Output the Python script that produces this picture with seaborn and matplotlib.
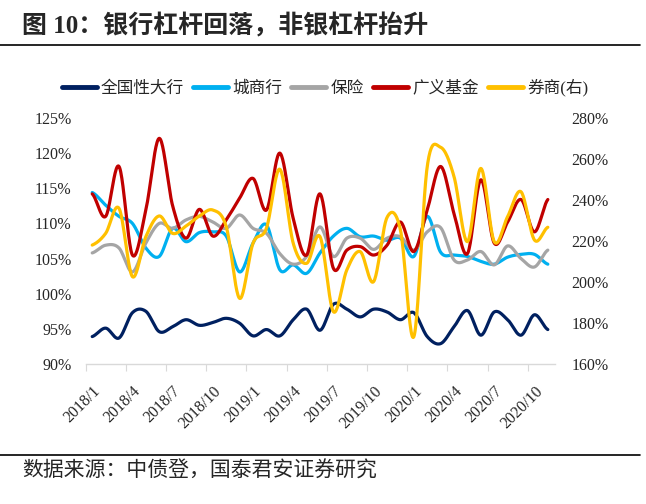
import numpy as np
import pandas as pd
import matplotlib
matplotlib.use("Agg")
import matplotlib.pyplot as plt
import seaborn as sns
from matplotlib.lines import Line2D

# ---------------------------------------------------------------
# data (monthly 2018/1 - 2020/11)
# ---------------------------------------------------------------
months = [f"{y}/{m}" for y in (2018, 2019, 2020) for m in range(1, 13)][:35]

big_banks = [93.9, 95.1, 93.7, 97.3, 97.5, 94.6, 95.3, 96.3, 95.5, 95.9,
             96.5, 95.8, 94.0, 94.9, 94.0, 96.3, 97.8, 94.8, 98.5, 97.8,
             96.7, 97.8, 97.4, 96.3, 97.3, 93.9, 92.9, 95.3, 97.6, 94.1,
             97.4, 96.3, 94.1, 97.0, 94.9]
city_banks = [114.4, 112.6, 111.0, 110.0, 106.5, 105.3, 109.3, 107.4, 108.7, 108.8,
              108.2, 103.1, 107.2, 109.8, 103.4, 104.1, 102.9, 105.8, 108.2, 109.3,
              108.1, 108.2, 107.6, 107.9, 105.3, 111.0, 105.9, 105.5, 105.3, 104.6,
              104.2, 105.2, 105.6, 105.6, 104.2]
insurance = [105.8, 106.9, 106.5, 103.1, 107.2, 110.0, 109.3, 110.5, 111.0, 110.2,
             109.3, 111.2, 109.3, 108.6, 105.7, 104.2, 105.3, 109.5, 105.3, 107.9,
             107.9, 106.3, 107.9, 108.1, 106.2, 108.8, 109.4, 104.8, 104.8, 106.0,
             104.1, 106.8, 105.0, 103.8, 106.2]
funds = [114.2, 111.0, 118.1, 105.5, 111.9, 122.1, 112.5, 107.9, 112.0, 108.2,
         110.5, 113.6, 116.4, 111.9, 120.0, 110.7, 105.5, 114.2, 103.6, 106.2,
         106.7, 105.5, 106.9, 110.2, 106.0, 111.9, 118.1, 111.4, 105.7, 116.2,
         107.2, 110.2, 113.4, 108.8, 113.4]
brokers = [218.0, 223.7, 235.9, 202.6, 222.1, 232.2, 223.7, 227.3, 232.2, 235.1,
           227.0, 192.0, 218.9, 226.2, 255.0, 218.9, 209.1, 222.1, 185.5, 205.9,
           214.8, 200.2, 231.5, 225.4, 173.3, 256.3, 265.7, 251.4, 219.7, 255.4,
           219.7, 231.9, 244.0, 220.5, 226.7]

left_series = [("全国性大行", big_banks, "#002060"),
               ("城商行", city_banks, "#00B0F0"),
               ("保险", insurance, "#A5A5A5"),
               ("广义基金", funds, "#C00000")]
right_series = [("券商(右)", brokers, "#FFC000")]


def smooth(values, n=24):
    # Excel-style smoothed line (Catmull-Rom through the data points)
    y = np.asarray(values, float)
    p = np.concatenate([[y[0]], y, [y[-1]]])
    t = np.linspace(0, 1, n, endpoint=False)
    xs, ys = [], []
    for i in range(len(y) - 1):
        p0, p1, p2, p3 = p[i], p[i + 1], p[i + 2], p[i + 3]
        seg = 0.5 * (2 * p1 + (p2 - p0) * t + (2 * p0 - 5 * p1 + 4 * p2 - p3) * t ** 2
                     + (-p0 + 3 * p1 - 3 * p2 + p3) * t ** 3)
        xs.append(i + t)
        ys.append(seg)
    xs.append([len(y) - 1])
    ys.append([y[-1]])
    return pd.DataFrame({"x": np.concatenate(xs), "y": np.concatenate(ys)})


# ---------------------------------------------------------------
# figure
# ---------------------------------------------------------------
sns.set_theme(style="white")
plt.rcParams["font.family"] = ["Liberation Serif", "Noto Sans CJK SC"]

fig = plt.figure(figsize=(6.46, 5.04), dpi=100)
ax = fig.add_axes([0.1324, 0.2778, 0.7260, 0.4881])
ax2 = ax.twinx()

for name, vals, color in left_series:
    d = smooth(vals)
    sns.lineplot(data=d, x="x", y="y", ax=ax, color=color, linewidth=2.3,
                 sort=False, estimator=None)
for name, vals, color in right_series:
    d = smooth(vals)
    sns.lineplot(data=d, x="x", y="y", ax=ax2, color=color, linewidth=2.3,
                 sort=False, estimator=None)

ax.set_xlim(-0.5, len(months) - 0.5)
ax.set_ylim(90, 125)
ax2.set_ylim(160, 280)
ax.set_yticks(np.arange(90, 126, 5))
ax.set_yticklabels([f"{v}%" for v in range(90, 126, 5)])
ax2.set_yticks(np.arange(160, 281, 20))
ax2.set_yticklabels([f"{v}%" for v in range(160, 281, 20)])

# tick marks between categories, labels under every third month
ax.set_xticks(np.arange(-0.5, len(months) - 1, 3))
ax.set_xticklabels([])
ax.set_xticks(np.arange(0, len(months), 3), minor=True)
ax.set_xticklabels(months[::3], minor=True, rotation=45, ha="right",
                   rotation_mode="anchor", fontsize=11.5)
ax.tick_params(axis="x", which="major", length=5, width=0.8, color="#d9d9d9",
               direction="out", bottom=True)
ax.tick_params(axis="x", which="minor", length=0, pad=14)
ax.tick_params(axis="y", length=0, pad=10, labelsize=11.5)
ax2.tick_params(axis="y", length=0, pad=12, labelsize=11.5)

for a in (ax, ax2):
    a.set_xlabel("")
    a.set_ylabel("")
    a.grid(False)
    for s in ("top", "left", "right"):
        a.spines[s].set_visible(False)
    a.spines["bottom"].set_color("#d9d9d9")
    a.spines["bottom"].set_linewidth(1.0)
ax2.spines["bottom"].set_visible(False)

# legend across the top
handles = [Line2D([], [], color=c, linewidth=3.5) for _, _, c in left_series + right_series]
labels = [n for n, _, _ in left_series + right_series]
fig.legend(handles, labels, loc="center", bbox_to_anchor=(0.503, 0.826), ncol=5,
           frameon=False, fontsize=12, handlelength=2.1, handletextpad=0.25,
           columnspacing=0.55)

# title, rules and source
fig.text(0.034, 0.948, "图 10：银行杠杆回落，非银杠杆抬升", fontsize=18, fontweight="bold",
         ha="left", va="center")
fig.add_artist(Line2D([0.0, 0.99], [1 - 45 / 504, 1 - 45 / 504], color="black", linewidth=1.2))
fig.add_artist(Line2D([0.0, 0.99], [1 - 455 / 504, 1 - 455 / 504], color="black", linewidth=1.2))
fig.text(0.034, 1 - 472 / 504, "数据来源：中债登，国泰君安证券研究", fontsize=15,
         ha="left", va="center")

fig.savefig("out.png", dpi=100)
